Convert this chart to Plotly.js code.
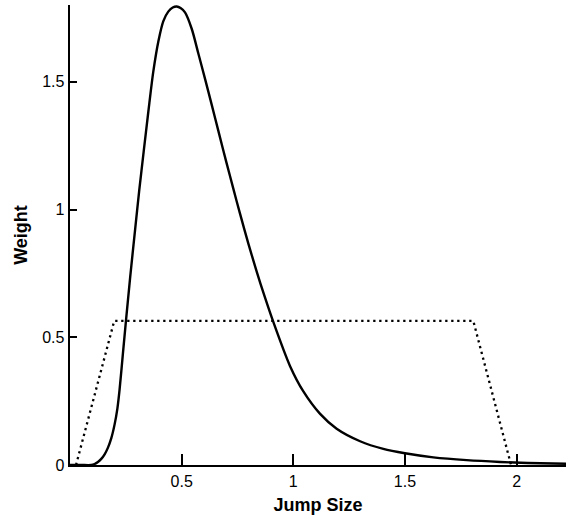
<!DOCTYPE html>
<html>
<head>
<meta charset="utf-8">
<script src="https://cdn.plot.ly/plotly-3.0.1.min.js"></script>
<style>html,body{margin:0;padding:0;background:#fff;}#chart{width:566px;height:523px;}</style>
</head>
<body>
<div id="chart"></div>
<script>
// Solid curve: weight as a function of jump size
const jumpSize = [0.00, 0.05, 0.095, 0.110, 0.125, 0.140, 0.155, 0.170, 0.185, 0.200, 0.212, 0.222, 0.237, 0.251,
  0.270, 0.292, 0.310, 0.330, 0.351, 0.373, 0.396, 0.418, 0.440, 0.460, 0.478, 0.495, 0.515, 0.545, 0.575,
  0.605, 0.635, 0.664, 0.700, 0.731, 0.761, 0.799, 0.836, 0.873, 0.908, 0.985, 1.045, 1.120, 1.194,
  1.299, 1.403, 1.500, 1.627, 1.776, 1.926, 2.050, 2.221];
const weight = [0.000, 0.000, 0.000, 0.004, 0.012, 0.024, 0.042, 0.068, 0.105, 0.160, 0.220, 0.295, 0.437, 0.568,
  0.740, 0.925, 1.075, 1.228, 1.385, 1.540, 1.660, 1.738, 1.775, 1.791, 1.795, 1.789, 1.772, 1.708, 1.610,
  1.511, 1.409, 1.309, 1.186, 1.083, 0.985, 0.866, 0.757, 0.656, 0.566, 0.388, 0.288, 0.200, 0.142,
  0.093, 0.063, 0.046, 0.030, 0.019, 0.012, 0.008, 0.005];
// Dotted trapezoid
const uniformX = [0.027, 0.198, 1.806, 1.975];
const uniformY = [0.000, 0.564, 0.564, 0.000];
// Axis ticks
const xTickVals = [0.5, 1, 1.5, 2];
const xTickText = ['0.5', '1', '1.5', '2'];
const yTickVals = [0, 0.5, 1, 1.5];
const yTickText = ['0', '0.5', '1', '1.5'];

const FONT = '"Liberation Sans", Arial, Helvetica, sans-serif';

const traces = [
  {x: uniformX, y: uniformY, mode: 'lines', type: 'scatter',
   line: {color: '#000', width: 2.3, dash: '2.3px,3.7px'}, hoverinfo: 'skip'},
  {x: jumpSize, y: weight, mode: 'lines', type: 'scatter',
   line: {color: '#000', width: 2.4, shape: 'spline', smoothing: 0.8}, hoverinfo: 'skip'}
];

const layout = {
  width: 566, height: 523,
  margin: {l: 70, r: 0, t: 5, b: 58},
  paper_bgcolor: '#fff', plot_bgcolor: '#fff',
  showlegend: false,
  font: {family: FONT, color: '#000', size: 16},
  xaxis: {
    range: [0, 2.221], showgrid: false, zeroline: false,
    showline: true, linewidth: 2.4, linecolor: '#000',
    ticks: 'inside', ticklen: 11, tickwidth: 2, tickcolor: '#000',
    tickvals: xTickVals, ticktext: xTickText,
    tickfont: {family: FONT, size: 16, color: '#000'},
    title: {text: '<b>Jump Size</b>', font: {family: FONT, size: 18, color: '#000'}, standoff: 10}
  },
  yaxis: {
    range: [0, 1.801], showgrid: false, zeroline: false,
    showline: true, linewidth: 2.4, linecolor: '#000',
    ticks: 'inside', ticklen: 7, tickwidth: 2, tickcolor: '#000',
    tickvals: yTickVals, ticktext: yTickText,
    tickfont: {family: FONT, size: 16, color: '#000'},
    title: {text: '<b>Weight</b>', font: {family: FONT, size: 18, color: '#000'}, standoff: 10}
  }
};

Plotly.newPlot('chart', traces, layout, {staticPlot: true, displayModeBar: false});
</script>
</body>
</html>
